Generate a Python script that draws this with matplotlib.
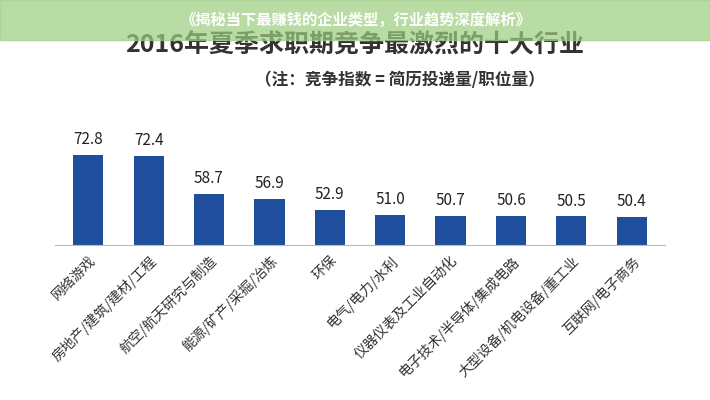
import matplotlib
matplotlib.use("Agg")
import matplotlib.pyplot as plt
from matplotlib.patches import Rectangle

plt.rcParams['font.family'] = ['Noto Sans CJK SC', 'DejaVu Sans']

categories = ["网络游戏", "房地产/建筑/建材/工程", "航空/航天研究与制造", "能源/矿产/采掘/冶炼",
              "环保", "电气/电力/水利", "仪器仪表及工业自动化", "电子技术/半导体/集成电路",
              "大型设备/机电设备/重工业", "互联网/电子商务"]
values = [72.8, 72.4, 58.7, 56.9, 52.9, 51.0, 50.7, 50.6, 50.5, 50.4]

W, H = 710, 400
fig = plt.figure(figsize=(W/100, H/100), dpi=100)
fig.patch.set_facecolor('white')
ax = fig.add_axes([55/W, 1-245/H, 610/W, 150/H])
x = list(range(len(values)))
ax.bar(x, values, width=0.5, color='#1f4e9c')
ax.set_ylim(40.2, 94.4)
ax.set_xlim(-0.55, 9.55)
for xi, v in zip(x, values):
    ax.text(xi, v + 2.5, f"{v:.1f}", ha='center', va='bottom', fontsize=11, color='#222')
ax.set_yticks([])
ax.set_xticks(x)
ax.set_xticklabels(categories, rotation=45, ha='right', rotation_mode='anchor', fontsize=10, color='#333')
ax.tick_params(axis='x', length=0, pad=6)
for s in ['top', 'right', 'left']:
    ax.spines[s].set_visible(False)
ax.spines['bottom'].set_color('#bbbbbb')
ax.set_facecolor('none')

fig.text(355/W, 1-45/H, "2016年夏季求职期竞争最激烈的十大行业", ha='center', va='center',
         fontsize=18, fontweight='bold', color='#333')
fig.text(400/W, 1-80/H, "（注：竞争指数 = 简历投递量/职位量）", ha='center', va='center',
         fontsize=12, fontweight='bold', color='#333')
fig.patches.append(Rectangle((0, 1-40/H), 1, 40/H, transform=fig.transFigure,
                             color='#9ccc7e', alpha=0.7, zorder=5))
fig.text(355/W, 1-20/H, "《揭秘当下最赚钱的企业类型，行业趋势深度解析》", ha='center', va='center',
         fontsize=11, color='white', fontweight='bold', zorder=6)
fig.savefig("out.png", dpi=100)
